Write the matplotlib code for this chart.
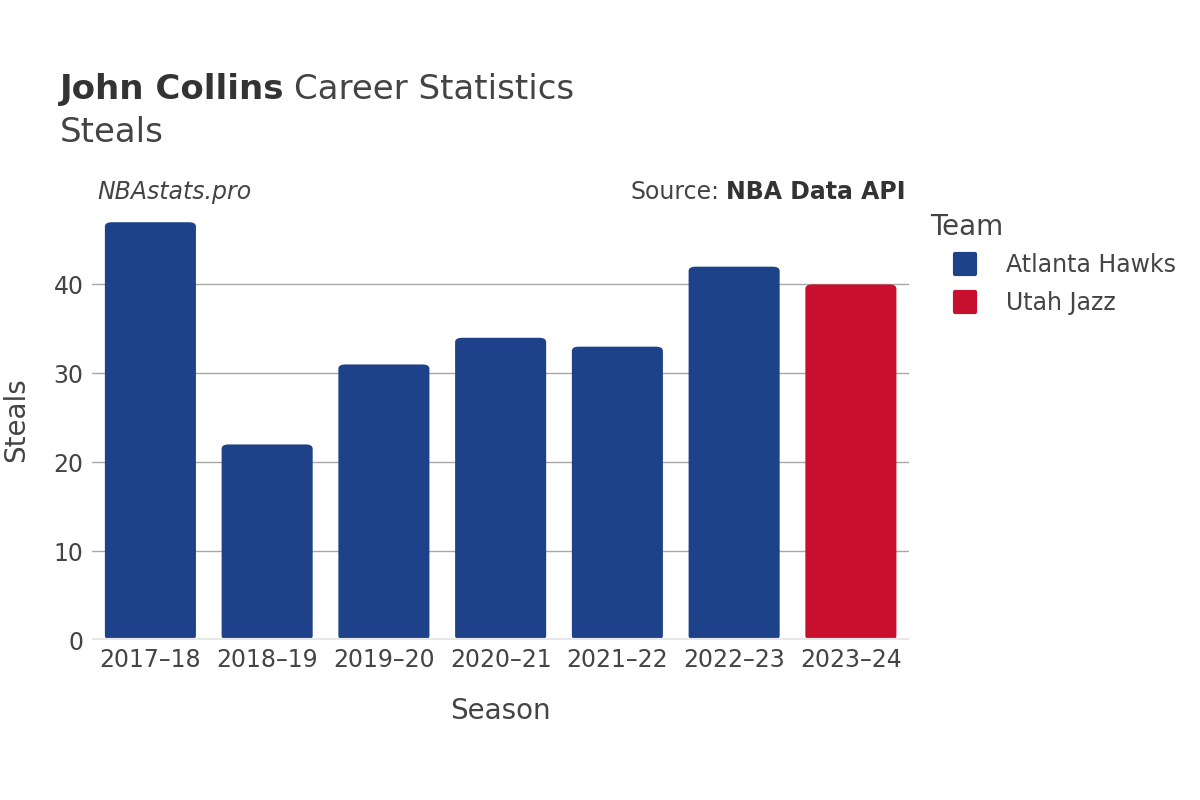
import matplotlib.pyplot as plt
from matplotlib.patches import FancyBboxPatch
from matplotlib.lines import Line2D
from matplotlib.markers import MarkerStyle

seasons = ['2017–18', '2018–19', '2019–20', '2020–21', '2021–22', '2022–23', '2023–24']
steals = [47, 22, 31, 34, 33, 42, 40]
teams = ['Atlanta Hawks', 'Atlanta Hawks', 'Atlanta Hawks', 'Atlanta Hawks',
         'Atlanta Hawks', 'Atlanta Hawks', 'Utah Jazz']
team_colors = {'Atlanta Hawks': '#1d428a', 'Utah Jazz': '#c8102e'}

plt.rcParams['font.family'] = ['DejaVu Sans']
txt = '#444444'

fig = plt.figure(figsize=(12, 8), dpi=100)
ax = fig.add_axes([0.0767, 0.2, 0.681, 0.55])

bar_w = 0.78
for i, (v, t) in enumerate(zip(steals, teams)):
    # bars with slightly rounded corners
    p = FancyBboxPatch((i - bar_w / 2, 0), bar_w, v,
                       boxstyle='round,pad=0,rounding_size=0.06',
                       mutation_aspect=8.0,
                       facecolor=team_colors[t], edgecolor='none', zorder=3)
    ax.add_patch(p)

ax.set_xlim(-0.5, len(seasons) - 0.5)
ax.set_ylim(0, 49.5)
ax.set_xticks(range(len(seasons)))
ax.set_xticklabels(seasons)
ax.set_yticks([0, 10, 20, 30, 40])
ax.tick_params(axis='both', length=0, labelsize=17, labelcolor=txt, pad=6)
ax.grid(axis='y', color='#a8a8a8', linewidth=1, zorder=0)
ax.axhline(0, color='#e8e8e8', linewidth=3, zorder=4)
for s in ax.spines.values():
    s.set_visible(False)

ax.set_xlabel('Season', fontsize=20, color=txt, labelpad=18)
ax.set_ylabel('Steals', fontsize=20, color=txt)
ax.yaxis.set_label_coords(-0.076, 0.5)

# title
t1 = fig.text(0.05, 0.888, 'John Collins', fontsize=24.5, fontweight='bold',
              color='#333333', va='center')
fig.canvas.draw()
bb = t1.get_window_extent()
fig.text(bb.x1 / 1200 + 0.008, 0.888, 'Career Statistics', fontsize=24.5,
         color=txt, va='center')
fig.text(0.05, 0.834, 'Steals', fontsize=24.5, color=txt, va='center')

fig.text(0.081, 0.76, 'NBAstats.pro', fontsize=17, style='italic', color=txt,
         va='center')
s2 = fig.text(0.755, 0.76, 'NBA Data API', fontsize=17, fontweight='bold',
              color='#333333', va='center', ha='right')
fig.canvas.draw()
bb2 = s2.get_window_extent()
fig.text(bb2.x0 / 1200 - 0.006, 0.76, 'Source:', fontsize=17, color=txt,
         va='center', ha='right')

# legend
handles = [Line2D([0], [0], marker=MarkerStyle('s', joinstyle='round'),
                  linestyle='none', markersize=14,
                  markerfacecolor=team_colors[k], markeredgecolor=team_colors[k],
                  markeredgewidth=3)
           for k in team_colors]
leg = fig.legend(handles, list(team_colors.keys()), title='Team',
                 loc='upper left', bbox_to_anchor=(0.775, 0.734),
                 frameon=False, fontsize=17, title_fontsize=20,
                 borderpad=0, borderaxespad=0,
                 handlelength=3, handletextpad=0.2,
                 labelspacing=0.6)
leg._legend_box.align = 'left'
leg._legend_box.sep = 9
for t in leg.get_texts():
    t.set_color(txt)
leg.get_title().set_color(txt)

fig.savefig('out.png', dpi=100)
